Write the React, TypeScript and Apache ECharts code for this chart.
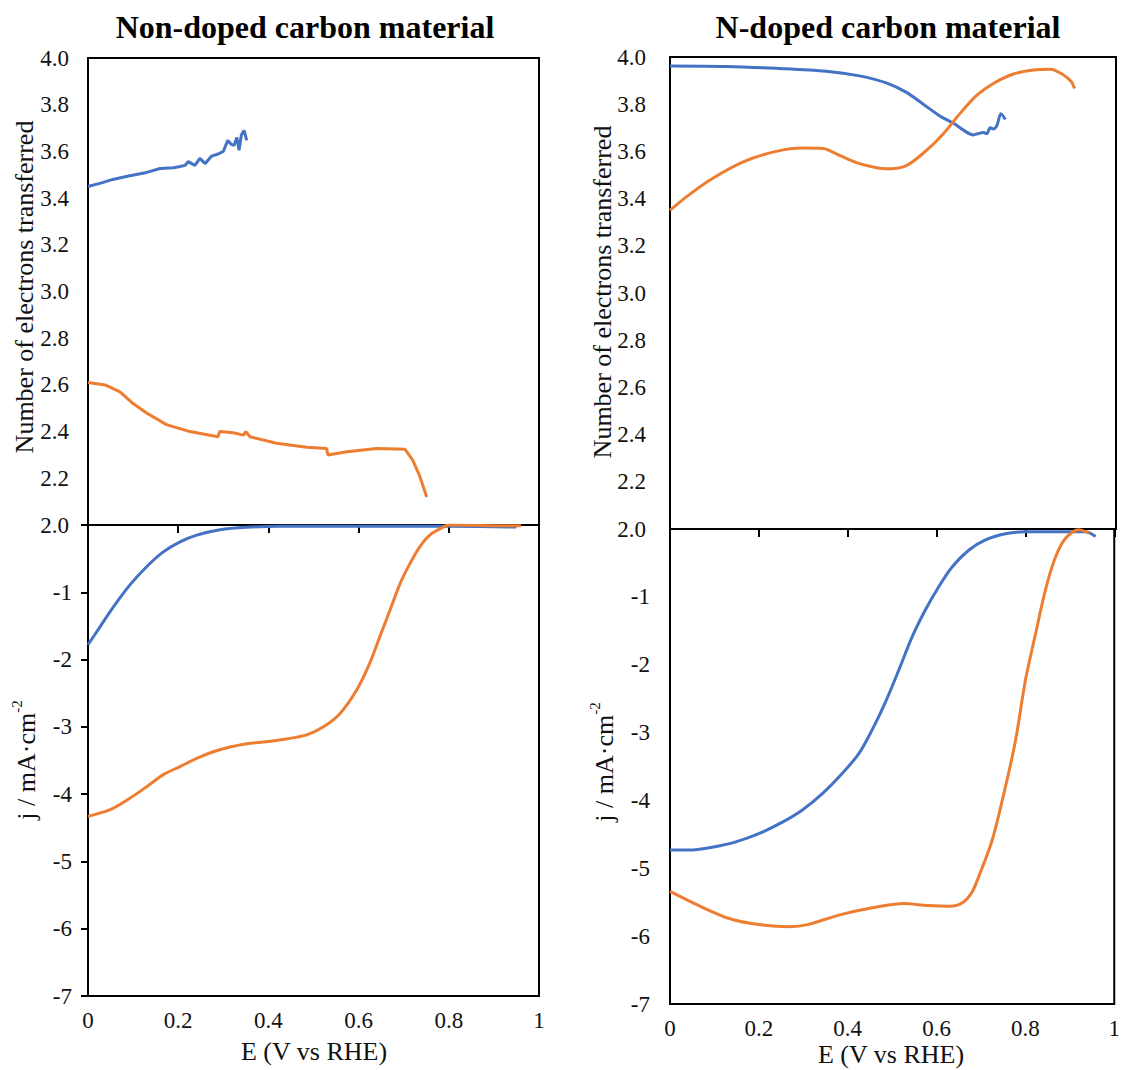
import React, { useEffect, useRef } from "react";
import * as echarts from "echarts";

// ---------- data (E in V vs RHE) ----------
// Non-doped carbon: number of electrons transferred
const nonDopedElectronsBlue: [number, number][] = [
  [0, 3.45], [0.03, 3.465], [0.055, 3.48], [0.09, 3.495], [0.13, 3.51], [0.16, 3.527],
  [0.19, 3.53], [0.204, 3.535], [0.215, 3.54], [0.222, 3.556], [0.237, 3.54], [0.248, 3.57],
  [0.26, 3.548], [0.274, 3.58], [0.29, 3.59], [0.3, 3.6], [0.31, 3.647], [0.318, 3.63],
  [0.324, 3.626], [0.33, 3.66], [0.335, 3.605], [0.34, 3.67], [0.346, 3.69], [0.352, 3.647],
];
const nonDopedElectronsOrange: [number, number][] = [
  [0, 2.61], [0.038, 2.6], [0.071, 2.57], [0.1, 2.52], [0.13, 2.48], [0.174, 2.43],
  [0.226, 2.4], [0.288, 2.378], [0.292, 2.4], [0.322, 2.395], [0.345, 2.385], [0.35, 2.4],
  [0.359, 2.378], [0.418, 2.35], [0.485, 2.333], [0.529, 2.328], [0.532, 2.3], [0.574, 2.314],
  [0.64, 2.328], [0.703, 2.324], [0.72, 2.278], [0.736, 2.207], [0.751, 2.12],
];
// Non-doped carbon: current density j / mA·cm-2
const nonDopedCurrentBlue: [number, number][] = [
  [0, -1.78], [0.027, -1.51], [0.056, -1.22], [0.093, -0.89], [0.13, -0.62], [0.167, -0.4],
  [0.204, -0.25], [0.241, -0.15], [0.293, -0.07], [0.352, -0.035], [0.42, -0.02], [0.6, -0.02],
  [0.8, -0.02], [0.95, -0.03],
];
const nonDopedCurrentOrange: [number, number][] = [
  [0, -4.33], [0.049, -4.23], [0.093, -4.06], [0.13, -3.89], [0.167, -3.71], [0.204, -3.59],
  [0.241, -3.47], [0.278, -3.37], [0.315, -3.3], [0.352, -3.25], [0.396, -3.22], [0.44, -3.18],
  [0.485, -3.12], [0.522, -3.0], [0.559, -2.8], [0.596, -2.45], [0.625, -2.05], [0.647, -1.66],
  [0.67, -1.26], [0.692, -0.87], [0.714, -0.57], [0.736, -0.32], [0.758, -0.15], [0.788, -0.03],
  [0.8, 0], [0.9, -0.01], [0.96, -0.01],
];
// N-doped carbon: number of electrons transferred
const nDopedElectronsBlue: [number, number][] = [
  [0, 3.962], [0.125, 3.96], [0.238, 3.952], [0.35, 3.94], [0.425, 3.92], [0.485, 3.89],
  [0.53, 3.85], [0.568, 3.8], [0.605, 3.75], [0.635, 3.72], [0.658, 3.69], [0.68, 3.67],
  [0.69, 3.675], [0.703, 3.68], [0.71, 3.675], [0.718, 3.7], [0.725, 3.695], [0.733, 3.71],
  [0.742, 3.76], [0.752, 3.735],
];
const nDopedElectronsOrange: [number, number][] = [
  [0, 3.35], [0.035, 3.405], [0.088, 3.477], [0.163, 3.555], [0.238, 3.6], [0.298, 3.614],
  [0.343, 3.612], [0.38, 3.583], [0.425, 3.548], [0.485, 3.526], [0.53, 3.54], [0.575, 3.604],
  [0.613, 3.675], [0.65, 3.76], [0.688, 3.838], [0.725, 3.888], [0.77, 3.928], [0.815, 3.945],
  [0.853, 3.948], [0.883, 3.923], [0.9, 3.895], [0.907, 3.867],
];
// N-doped carbon: current density
const nDopedCurrentBlue: [number, number][] = [
  [0, -4.73], [0.05, -4.73], [0.095, -4.69], [0.148, -4.61], [0.2, -4.49], [0.253, -4.32],
  [0.298, -4.14], [0.343, -3.9], [0.388, -3.6], [0.425, -3.31], [0.455, -2.96], [0.485, -2.55],
  [0.515, -2.08], [0.545, -1.59], [0.575, -1.19], [0.605, -0.85], [0.635, -0.56], [0.673, -0.31],
  [0.71, -0.16], [0.755, -0.07], [0.8, -0.04], [0.875, -0.04], [0.935, -0.04], [0.958, -0.11],
];
const nDopedCurrentOrange: [number, number][] = [
  [0, -5.34], [0.065, -5.55], [0.133, -5.74], [0.2, -5.83], [0.27, -5.86], [0.31, -5.83],
  [0.38, -5.69], [0.45, -5.59], [0.527, -5.52], [0.58, -5.55], [0.63, -5.56], [0.66, -5.5],
  [0.68, -5.35], [0.695, -5.12], [0.725, -4.59], [0.755, -3.8], [0.778, -3.11], [0.8, -2.23],
  [0.823, -1.54], [0.845, -0.9], [0.868, -0.41], [0.89, -0.14], [0.92, -0.01], [0.943, -0.06],
];

const panelTitles = ["Non-doped carbon material", "N-doped carbon material"];
const electronsTitle = "Number of electrons transferred";
const xTitle = "E (V vs RHE)";
const eRange = [0, 1];
const electronsRange = [2, 4];
const currentRange = [-7, 0];

const BLUE = "#4472C4";
const ORANGE = "#ED7D31";
const FONT = "Times New Roman, Liberation Serif, DejaVu Serif, serif";
const TICK_FS = 23;
const NAME_FS = 26;

export default function App() {
  const ref = useRef<HTMLDivElement>(null);
  useEffect(() => {
    if (!ref.current) return;
    const chart = echarts.init(ref.current, undefined, { renderer: "svg" });

    const grids = [
      { left: 88, top: 58, width: 451, height: 467 },
      { left: 88, top: 525, width: 451, height: 471 },
      { left: 670, top: 57, width: 446, height: 472 },
      { left: 670, top: 529, width: 446, height: 475 },
    ].map((g) => ({
      ...g,
      show: true,
      borderColor: "#000",
      borderWidth: 2,
      backgroundColor: "transparent",
      containLabel: false,
    }));

    const xFmt = (v: number) => (v === 0 ? "0" : v === 1 ? "1" : v.toFixed(1));
    const hiddenX = (gi: number) => ({
      type: "value", gridIndex: gi, min: eRange[0], max: eRange[1], show: false,
    });
    const labelX = (gi: number) => ({
      type: "value", gridIndex: gi, min: eRange[0], max: eRange[1], interval: 0.2,
      position: "bottom",
      axisLine: { show: false }, axisTick: { show: false }, splitLine: { show: false },
      axisLabel: { formatter: xFmt, fontFamily: FONT, fontSize: TICK_FS, color: "#111", margin: 13 },
    });
    const tickX = (gi: number) => ({
      type: "value", gridIndex: gi, min: eRange[0], max: eRange[1], interval: 0.2,
      position: "top",
      axisLine: { show: true, lineStyle: { color: "#000", width: 2 } },
      axisTick: { show: true, inside: true, length: 8, lineStyle: { color: "#000", width: 2 } },
      axisLabel: { show: false }, splitLine: { show: false },
    });
    const electronsY = (gi: number, margin: number) => ({
      type: "value", gridIndex: gi, min: electronsRange[0], max: electronsRange[1], interval: 0.2,
      axisLine: { show: false }, axisTick: { show: false }, splitLine: { show: false },
      axisLabel: {
        formatter: (v: number) => v.toFixed(1),
        fontFamily: FONT, fontSize: TICK_FS, color: "#111", margin,
      },
    });
    const currentY = (gi: number, ticks: boolean, margin: number) => ({
      type: "value", gridIndex: gi, min: currentRange[0], max: currentRange[1], interval: 1,
      axisLine: { show: true, lineStyle: { color: "#000", width: 2 } },
      axisTick: { show: ticks, length: 7, lineStyle: { color: "#000", width: 2 } },
      splitLine: { show: false },
      axisLabel: {
        formatter: (v: number) => (v === 0 ? "" : String(v)),
        fontFamily: FONT, fontSize: TICK_FS, color: "#111", margin,
      },
    });

    const line = (name: string, data: [number, number][], color: string, xi: number, yi: number, smooth: boolean) => ({
      type: "line", name, data, xAxisIndex: xi, yAxisIndex: yi,
      showSymbol: false, symbol: "none", smooth: smooth ? 0.3 : false,
      lineStyle: { color, width: 3 }, itemStyle: { color },
      z: 5,
    });

    const yTitle = (x: number, y: number, text: string, rich?: any) => ({
      type: "text", x, y, rotation: Math.PI / 2,
      style: {
        text, fontFamily: FONT, fontSize: NAME_FS, fill: "#111",
        align: "center", verticalAlign: "middle", rich,
      },
    });
    const jRich = {
      a: { fontFamily: FONT, fontSize: NAME_FS, fill: "#111", lineHeight: 30, verticalAlign: "bottom" },
      s: { fontFamily: FONT, fontSize: 15, fill: "#111", lineHeight: 30, verticalAlign: "top" },
    };
    const jText = "{a|j / mA·cm}{s|-2}";

    chart.setOption({
      animation: false,
      backgroundColor: "#fff",
      textStyle: { fontFamily: FONT },
      grid: grids,
      xAxis: [hiddenX(0), labelX(1), tickX(1), hiddenX(2), labelX(3), tickX(3)],
      yAxis: [electronsY(0, 19), currentY(1, true, 16), electronsY(2, 24), currentY(3, false, 20)],
      series: [
        line("Non-doped n (blue)", nonDopedElectronsBlue, BLUE, 0, 0, false),
        line("Non-doped n (orange)", nonDopedElectronsOrange, ORANGE, 0, 0, false),
        line("Non-doped j (blue)", nonDopedCurrentBlue, BLUE, 1, 1, true),
        line("Non-doped j (orange)", nonDopedCurrentOrange, ORANGE, 1, 1, true),
        line("N-doped n (blue)", nDopedElectronsBlue, BLUE, 3, 2, true),
        line("N-doped n (orange)", nDopedElectronsOrange, ORANGE, 3, 2, true),
        line("N-doped j (blue)", nDopedCurrentBlue, BLUE, 4, 3, true),
        line("N-doped j (orange)", nDopedCurrentOrange, ORANGE, 4, 3, true),
      ],
      graphic: [
        {
          type: "text", x: 305, y: 27,
          style: { text: panelTitles[0], fontFamily: FONT, fontSize: 32, fontWeight: "bold", fill: "#000", align: "center", verticalAlign: "middle" },
        },
        {
          type: "text", x: 888, y: 27,
          style: { text: panelTitles[1], fontFamily: FONT, fontSize: 32, fontWeight: "bold", fill: "#000", align: "center", verticalAlign: "middle" },
        },
        yTitle(24, 287, electronsTitle),
        yTitle(602, 292, electronsTitle),
        yTitle(24, 760, jText, jRich),
        yTitle(602, 762, jText, jRich),
        {
          type: "text", x: 314, y: 1051,
          style: { text: xTitle, fontFamily: FONT, fontSize: NAME_FS, fill: "#111", align: "center", verticalAlign: "middle" },
        },
        {
          type: "text", x: 891, y: 1054,
          style: { text: xTitle, fontFamily: FONT, fontSize: NAME_FS, fill: "#111", align: "center", verticalAlign: "middle" },
        },
      ],
    });
    return () => chart.dispose();
  }, []);

  return (
    <div
      ref={ref}
      style={{ position: "fixed", left: 0, top: 0, width: 1123, height: 1070, background: "#fff" }}
    />
  );
}
